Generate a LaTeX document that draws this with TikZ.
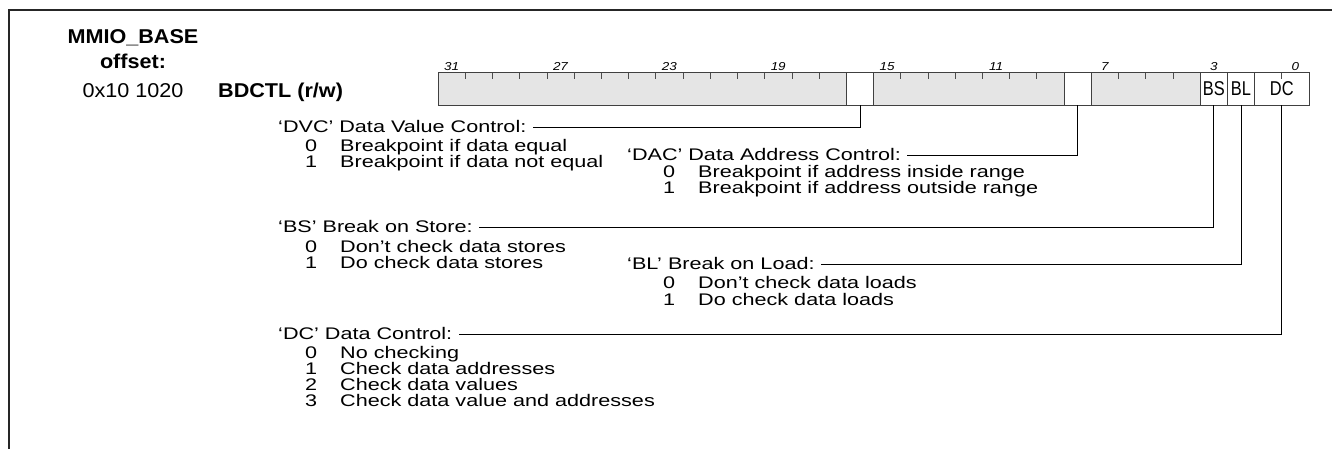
\documentclass[tikz,border=0pt]{standalone}
\usepackage{fontspec}
\newfontfamily\bodyfont{Liberation Sans}[FakeStretch=1.286]
\newfontfamily\hdrfont{Liberation Sans}[FakeStretch=1.08]
\newfontfamily\lblfont{Liberation Sans}[FakeStretch=1.17]
\newfontfamily\cellfont{Liberation Sans}[FakeStretch=0.82]
\newcommand\bititem[2]{\makebox[35pt][l]{#1}#2}
\begin{document}
\begin{tikzpicture}[x=1pt,y=-1pt,
  frame/.style={line width=2pt, draw=black!85},
  field/.style={draw=black!75, line width=1pt, inner sep=0pt, outer sep=0pt, anchor=north west, minimum height=32.5pt, font=\cellfont\fontsize{20}{20}\selectfont},
  grayfield/.style={field, fill=black!10},
  tickmark/.style={draw=black!70, line width=0.7pt},
  bitlbl/.style={anchor=base, inner sep=0pt, font=\lblfont\itshape\fontsize{11.5}{11.5}\selectfont},
  hdr/.style={anchor=base, inner sep=0pt, font=\hdrfont\bfseries\fontsize{20}{20}\selectfont},
  hdrr/.style={anchor=base, inner sep=0pt, font=\hdrfont\fontsize{20}{20}\selectfont},
  ttl/.style={anchor=west, inner sep=0pt, text height=11.5pt, text depth=0pt, font=\bodyfont\fontsize{16.8}{16.8}\selectfont},
  itm/.style={anchor=base west, inner sep=0pt, font=\bodyfont\fontsize{16.8}{16.8}\selectfont},
  conn/.style={draw=black, line width=0.8pt},
]
\useasboundingbox (0,0) rectangle (1332,448);
\draw[frame] (8.5,449) -- (8.5,9.5) -- (1333,9.5);

% header
\node[hdr] (mmio) at (133,43) {MMIO\_BASE};
\node[hdr] (offs) at (133,68) {offset:};
\node[hdrr] (addr) at (133,97) {0x10 1020};
\node[hdr, anchor=base west] (reg) at (218,97) {BDCTL (r/w)};

% register fields (bit width 27.21875)
\node[grayfield, minimum width=408.28pt] (f31) at (438,72.5) {};
\node[field, minimum width=27.22pt] (f16) at (846.28,72.5) {};
\node[grayfield, minimum width=190.53pt] (f15) at (873.5,72.5) {};
\node[field, minimum width=27.22pt] (f8) at (1064.03,72.5) {};
\node[grayfield, minimum width=108.88pt] (f7) at (1091.25,72.5) {};
\node[field, minimum width=27.22pt] (bs) at (1200.13,72.5) {BS};
\node[field, minimum width=27.22pt] (bl) at (1227.34,72.5) {BL};
\node[field, minimum width=54.44pt] (dc) at (1254.56,72.5) {DC};

\foreach \k in {1,...,14,17,18,...,22,25,26,27,31}
  \draw[tickmark] ({438+\k*27.21875},72.5) -- ++(0,6);

\foreach \b in {31,27,23,19,15,11,7,3,0}
  \node[bitlbl] (lbl\b) at ({438+(31.5-\b)*27.21875},70) {\b};

% DVC
\node[ttl] (dvct) at (278,127) {‘DVC’ Data Value Control:};
\node[itm] (dvc0) at (305,151) {\bititem{0}{Breakpoint if data equal}};
\node[itm] (dvc1) at (305,167) {\bititem{1}{Breakpoint if data not equal}};
\draw[conn] (f16.south) |- ([xshift=6pt]dvct.east);

% DAC
\node[ttl] (dact) at (627,155) {‘DAC’ Data Address Control:};
\node[itm] (dac0) at (663,177) {\bititem{0}{Breakpoint if address inside range}};
\node[itm] (dac1) at (663,193) {\bititem{1}{Breakpoint if address outside range}};
\draw[conn] (f8.south) |- ([xshift=6pt]dact.east);

% BS
\node[ttl] (bst) at (278,227) {‘BS’ Break on Store:};
\node[itm] (bs0) at (305,252) {\bititem{0}{Don’t check data stores}};
\node[itm] (bs1) at (305,268) {\bititem{1}{Do check data stores}};
\draw[conn] (bs.south) |- ([xshift=6pt]bst.east);

% BL
\node[ttl] (blt) at (627,264) {‘BL’ Break on Load:};
\node[itm] (bl0) at (663,288) {\bititem{0}{Don’t check data loads}};
\node[itm] (bl1) at (663,305) {\bititem{1}{Do check data loads}};
\draw[conn] (bl.south) |- ([xshift=6pt]blt.east);

% DC
\node[ttl] (dct) at (278,334) {‘DC’ Data Control:};
\node[itm] (dc0) at (305,358) {\bititem{0}{No checking}};
\node[itm] (dc1) at (305,374) {\bititem{1}{Check data addresses}};
\node[itm] (dc2) at (305,390) {\bititem{2}{Check data values}};
\node[itm] (dc3) at (305,406) {\bititem{3}{Check data value and addresses}};
\draw[conn] (dc.south) |- ([xshift=6pt]dct.east);
\end{tikzpicture}
\end{document}
